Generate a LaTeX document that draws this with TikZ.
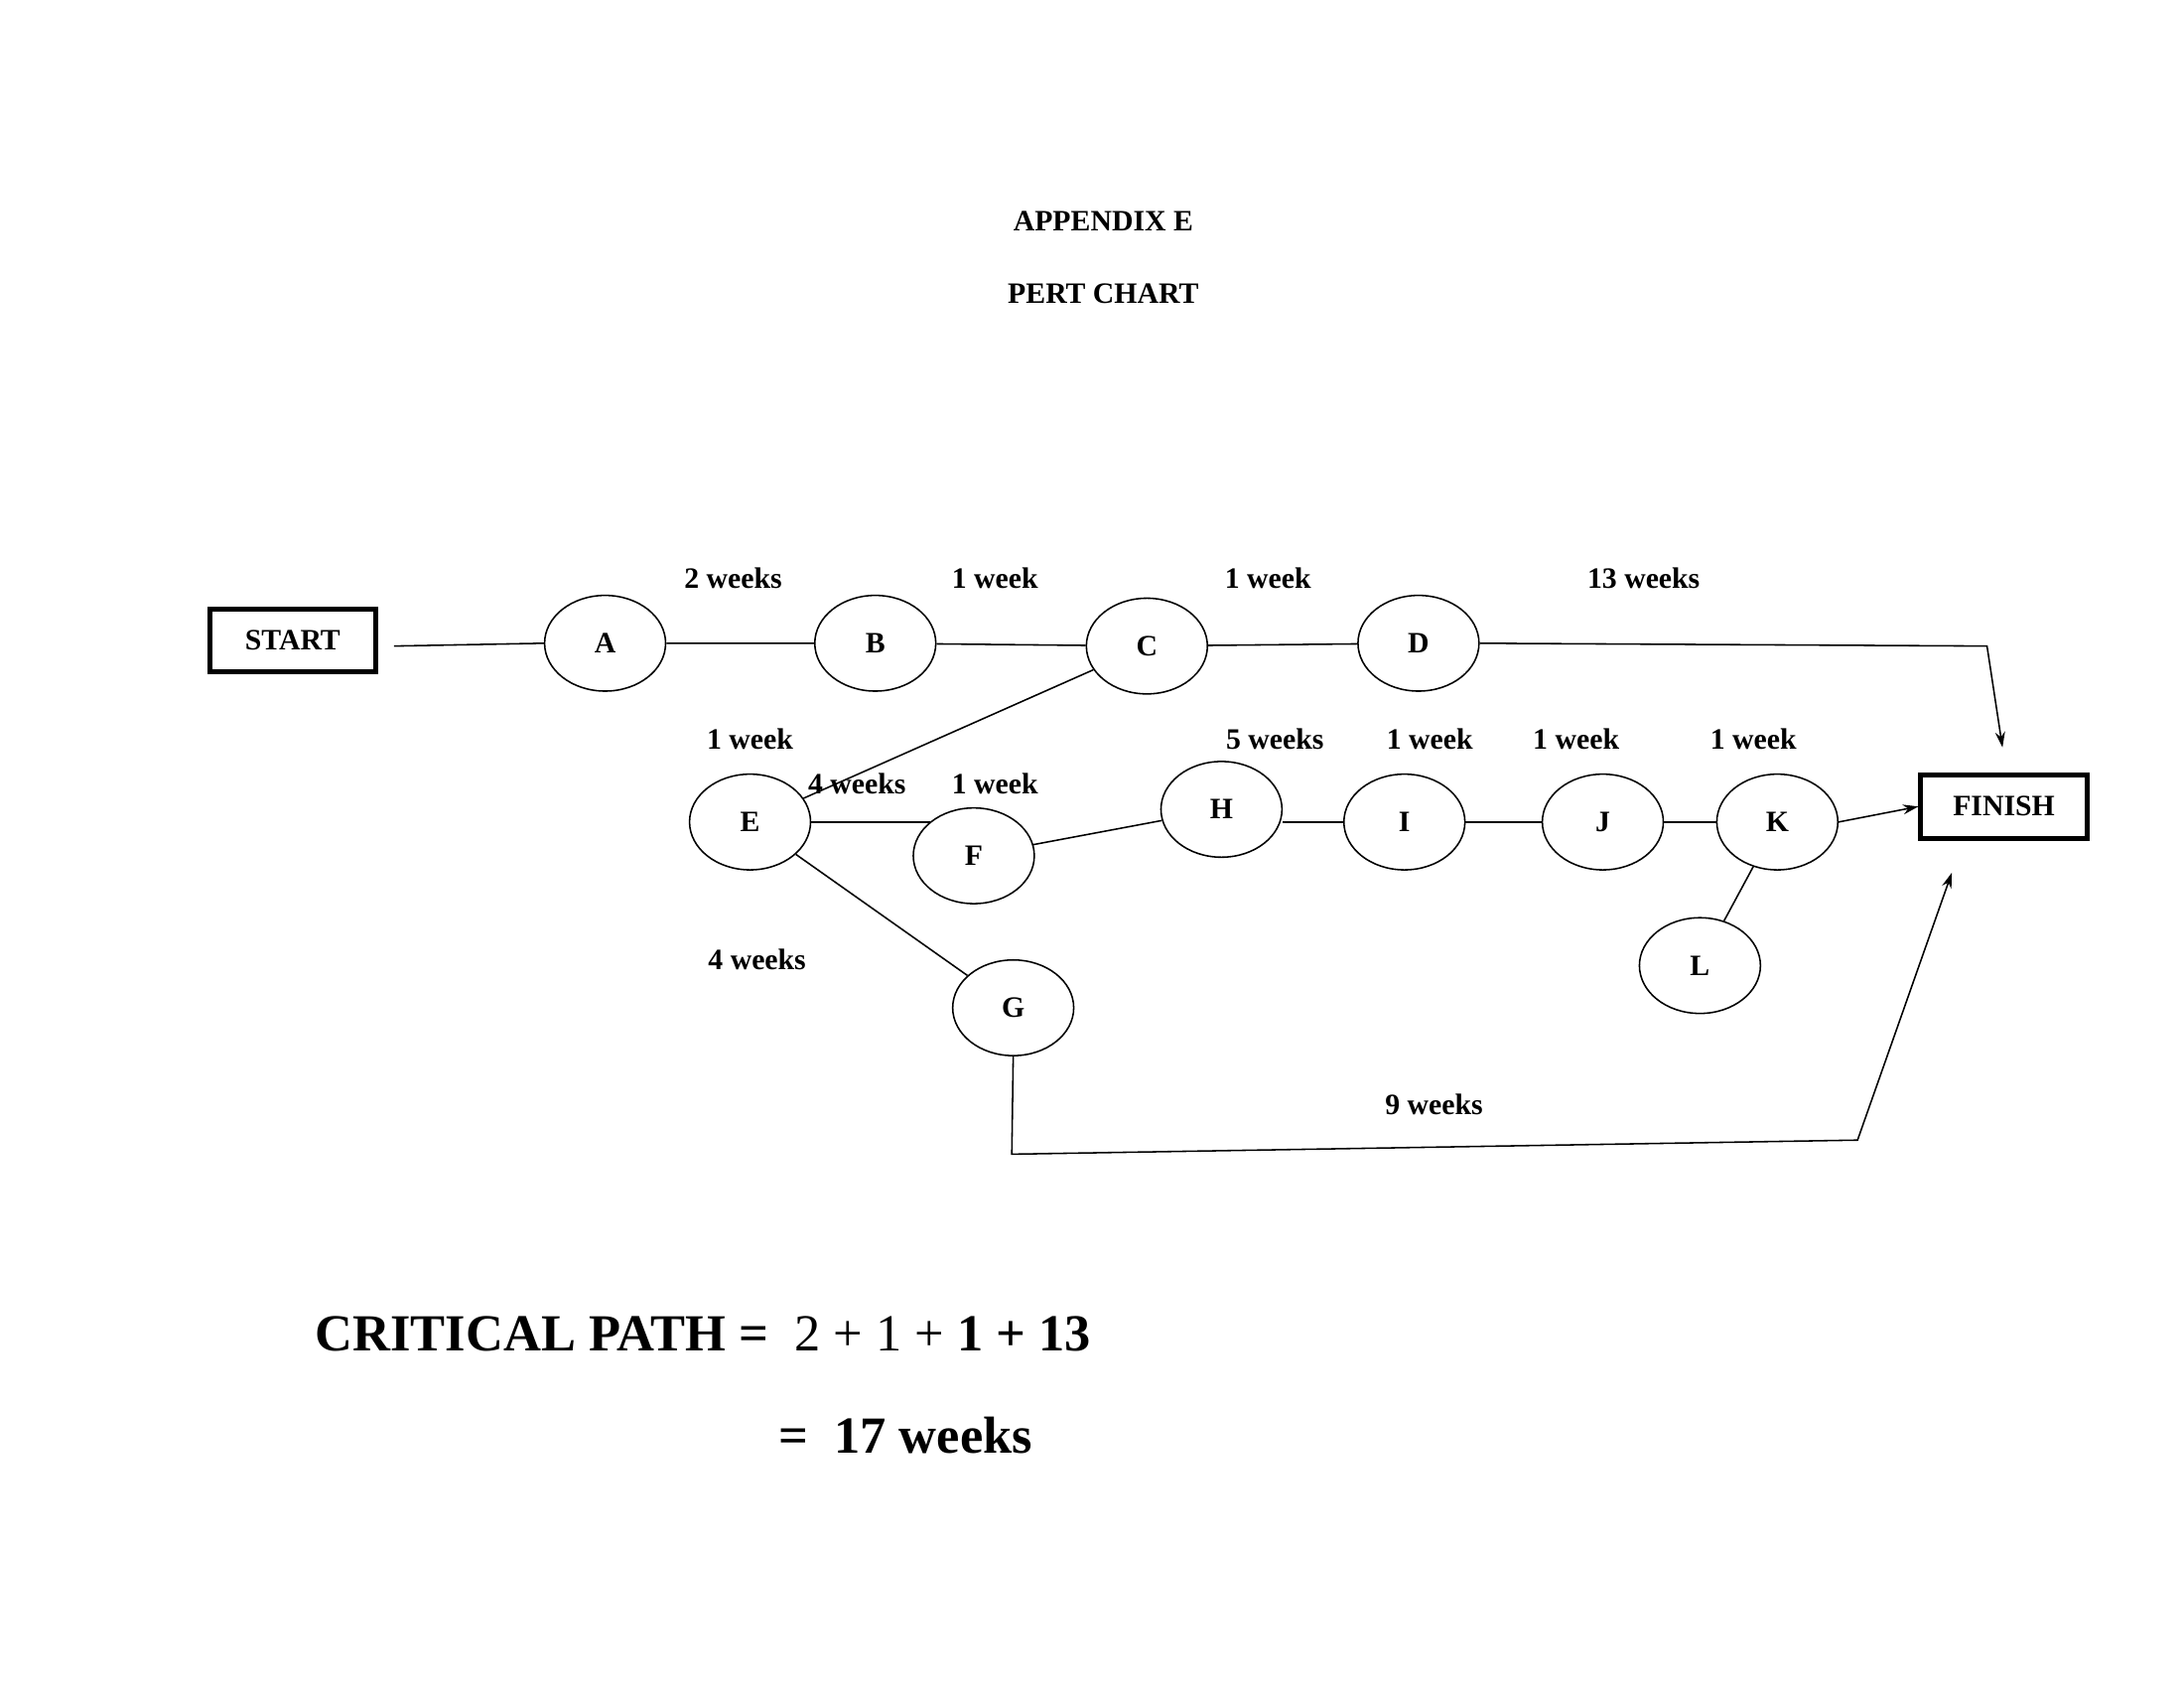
\documentclass[tikz,border=0pt]{standalone}
\usepackage{fontspec}
\setmainfont{Liberation Serif}
\usetikzlibrary{shapes.geometric,arrows.meta}
\begin{document}
\begin{tikzpicture}[x=1pt,y=-1pt,
  ev/.style={ellipse,draw,line width=1.1pt,minimum width=86pt,minimum height=68pt,inner sep=0pt,font=\fontsize{21}{24}\selectfont\bfseries},
  bx/.style={draw,line width=3.5pt,minimum width=118pt,minimum height=45pt,inner sep=0pt,font=\fontsize{21}{24}\selectfont\bfseries},
  lb/.style={font=\fontsize{21}{24}\selectfont\bfseries},
  ln/.style={line width=1.1pt},
  ar/.style={line width=1.1pt,-{Stealth[length=11pt,width=7pt]}}]
\useasboundingbox (0,0) rectangle (1552,1200);
\node[lb] (t1) at (784,157) {APPENDIX E};
\node[lb] (t2) at (784,209) {PERT CHART};
\node[bx] (S) at (208,455) {START};
\node[bx] (FI) at (1424,573) {FINISH};
\node[ev] (A) at (430,457) {A};
\node[ev] (B) at (622,457) {B};
\node[ev] (C) at (815,459) {C};
\node[ev] (D) at (1008,457) {D};
\node[ev] (E) at (533,584) {E};
\node[ev] (F) at (692,608) {F};
\node[ev] (H) at (868,575) {H};
\node[ev] (I) at (998,584) {I};
\node[ev] (J) at (1139,584) {J};
\node[ev] (K) at (1263,584) {K};
\node[ev] (L) at (1208,686) {L};
\node[ev] (G) at (720,716) {G};
\coordinate (s0) at (280,459);
\coordinate (d1) at (1412,459);
\coordinate (fa) at (1423,531);
\coordinate (g1) at (719,820);
\coordinate (g2) at (1320,810);
\coordinate (fb) at (1387,620);
\draw[ln] (s0) -- (A.west) (A) -- (B) (B) -- (C) (C) -- (D);
\draw[ar] (D.east) -- (d1) -- (fa);
\draw[ln] (C) -- (E);
\draw[ln] (E.east) -- (E.east -| F.north west);
\draw[ln] (F) -- (H);
\draw[ln] (H.east |- I.west) -- (I.west) (I) -- (J) (J) -- (K);
\draw[ar] (K.east) -- (FI.west);
\draw[ln] (K) -- (L);
\draw[ln] (E) -- (G);
\draw[ar] (G.south) -- (g1) -- (g2) -- (fb);
\node[lb] (l1) at (521,411) {2 weeks};
\node[lb] (l2) at (707,411) {1 week};
\node[lb] (l3) at (901,411) {1 week};
\node[lb] (l4) at (1168,411) {13 weeks};
\node[lb] (l5) at (533,525) {1 week};
\node[lb] (l6) at (609,557) {4 weeks};
\node[lb] (l7) at (707,557) {1 week};
\node[lb] (l8) at (906,525) {5 weeks};
\node[lb] (l9) at (1016,525) {1 week};
\node[lb] (l10) at (1120,525) {1 week};
\node[lb] (l11) at (1246,525) {1 week};
\node[lb] (l12) at (538,682) {4 weeks};
\node[lb] (l13) at (1019,785) {9 weeks};
\node[anchor=west,inner sep=0pt,font=\fontsize{37}{40}\selectfont] (cp) at (224,948) {\textbf{CRITICAL PATH =}\ \ 2 + 1 + \textbf{1 + 13}};
\node[anchor=west,inner sep=0pt,font=\fontsize{37}{40}\selectfont\bfseries] (cp2) at (553,1020) {=\ \ 17 weeks};
\end{tikzpicture}
\end{document}
